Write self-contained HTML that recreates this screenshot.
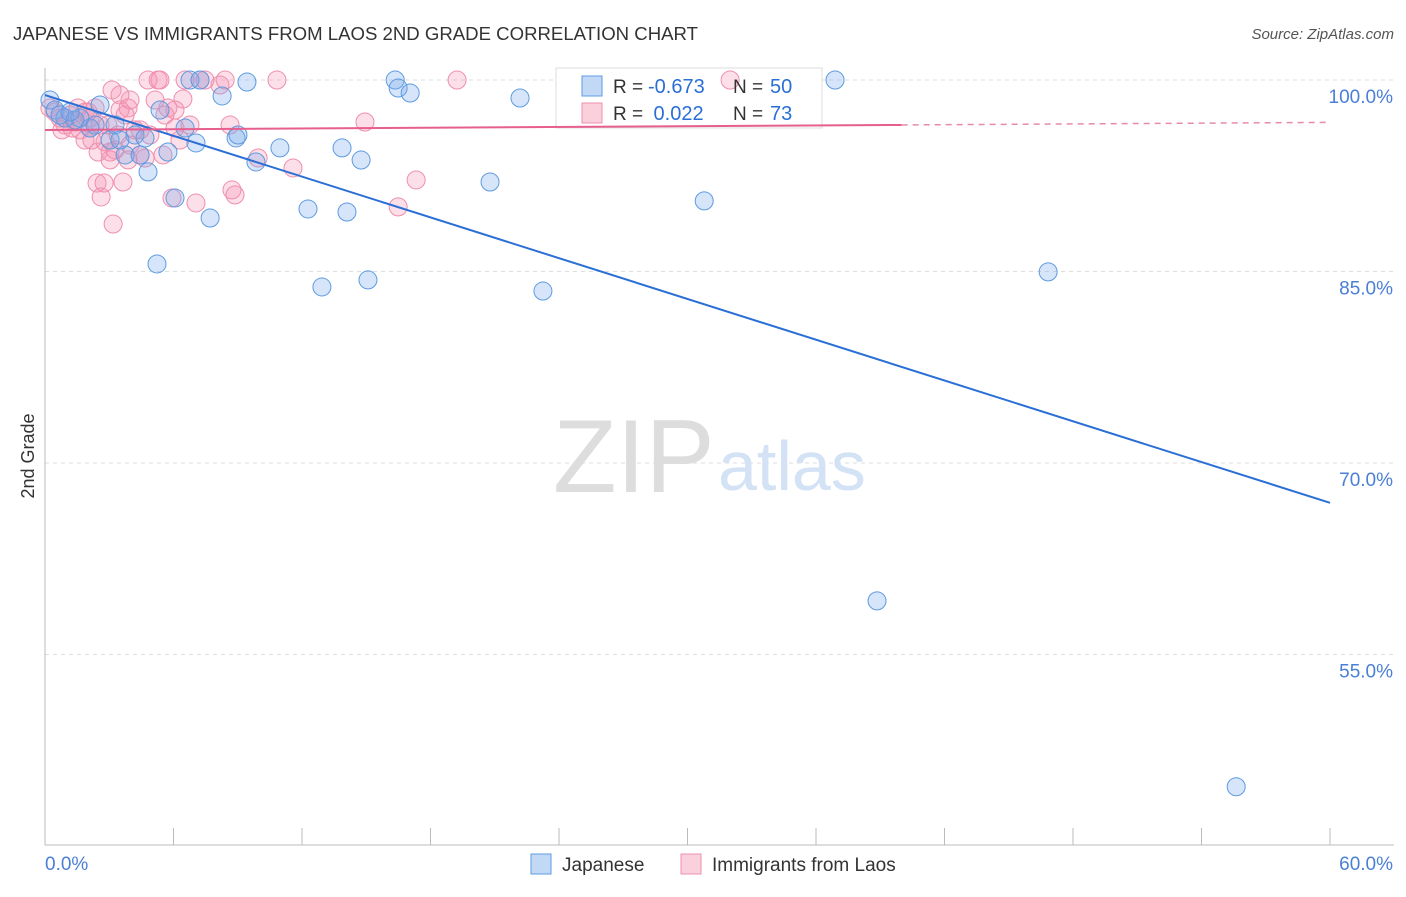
<!DOCTYPE html>
<html><head><meta charset="utf-8"><style>
body{margin:0;background:#fff;font-family:"Liberation Sans",sans-serif}
svg text{font-family:"Liberation Sans",sans-serif}
</style></head><body>
<svg id="c" width="1406" height="892"></svg>
<script>
const jpX=[0.23,0.47,0.93,2.10,2.57,3.04,3.27,3.74,4.20,4.44,4.67,4.81,5.23,5.37,5.74,6.07,6.54,6.77,7.05,7.24,7.71,8.27,8.92,9.01,9.43,9.85,10.97,12.28,12.93,13.87,14.10,14.76,15.08,16.35,16.49,17.05,20.78,22.18,23.25,30.78,36.89,38.85,46.84,55.62,0.70,1.40,2.34,3.50,1.63,1.17];
const jpY=[98.43,97.65,97.02,96.24,98.04,95.30,96.48,94.13,95.69,94.13,95.46,92.80,85.59,97.65,94.36,90.76,96.24,100,95.07,100,89.19,98.75,95.46,95.69,99.84,93.58,94.68,89.90,83.79,94.68,89.66,93.73,84.34,100,99.37,98.98,92.01,98.59,83.47,90.53,100,59.20,84.97,44.64,97.26,96.87,96.48,95.30,97.02,97.49];
const laX=[.23,.47,.70,.93,1.17,1.40,1.63,1.87,2.10,2.34,2.57,1.87,2.10,2.48,2.80,3.04,3.13,3.27,3.50,3.74,3.88,3.97,4.20,4.44,4.67,4.81,5.14,5.28,5.37,5.51,5.60,5.74,6.07,6.30,6.44,6.77,7.05,7.24,7.47,8.17,8.64,8.73,8.87,8.41,9.95,10.83,11.58,14.94,16.49,17.33,19.24,31.99,2.43,2.76,2.62,3.18,3.64,5.93,2.94,3.41,3.88,4.90,.79,1.26,1.54,2.01,2.19,3.97,4.44,3.04,6.07,6.54,3.50];
const laY=[97.81,97.49,97.02,96.48,97.26,96.71,96.09,97.49,97.02,97.81,96.48,95.30,96.24,94.36,95.15,94.36,99.22,94.52,97.65,97.26,97.81,98.43,96.09,94.13,93.89,100,98.43,100,100,94.13,97.26,97.81,96.24,95.30,98.51,96.48,90.37,100,100,99.61,96.48,91.39,91.00,100,93.89,100,93.11,96.71,90.06,92.17,100,100,91.93,91.93,90.84,88.72,92.01,90.76,96.48,95.69,93.74,95.69,96.09,96.24,97.81,97.49,95.30,94.91,96.09,93.74,97.65,100,98.83];
const jpTrend=[98.82,66.88]; // at x=0 and x=60
const laTrend=[96.08,96.48,96.68]; // at x=0, 40, 60
const yTicks=[100,85,70,55];
const ns="http://www.w3.org/2000/svg",svg=document.getElementById('c');
const X=v=>45+v/60*1285, Y=v=>80+(100-v)/15*191.5;
function el(t,a,p){const e=document.createElementNS(ns,t);for(const k in a)e.setAttribute(k,a[k]);(p||svg).appendChild(e);return e;}
let t=el('text',{x:13,y:40,'font-size':18.6,fill:'#333'});t.textContent='JAPANESE VS IMMIGRANTS FROM LAOS 2ND GRADE CORRELATION CHART';

t=el('text',{x:1394,y:39,'font-size':15,fill:'#555','text-anchor':'end','font-style':'italic'});t.textContent='Source: ZipAtlas.com';

yTicks.forEach(v=>{const g=el('line',{x1:45,x2:1394,y1:Y(v),y2:Y(v),stroke:'#ddd','stroke-dasharray':'4,4'});

const l=el('text',{x:1393,y:Y(v)+23,'font-size':19,fill:'#4a7fd6','text-anchor':'end'});l.textContent=v.toFixed(1)+'%';
});
el('line',{x1:45,x2:45,y1:68,y2:845,stroke:'#bbb'});
el('line',{x1:45,x2:1394,y1:845,y2:845,stroke:'#bbb'});
for(let i=0;i<=10;i++){const tk=el('line',{x1:X(i*6),x2:X(i*6),y1:828,y2:845,stroke:'#bbb'});}
t=el('text',{x:45,y:870,'font-size':19,fill:'#4a7fd6'});t.textContent='0.0%';
t=el('text',{x:1393,y:870,'font-size':19,fill:'#4a7fd6','text-anchor':'end'});t.textContent='60.0%';
t=el('text',{x:34,y:456,'font-size':18,fill:'#333','text-anchor':'middle',transform:'rotate(-90 34 456)'});t.textContent='2nd Grade';
t=el('text',{x:553,y:492,'font-size':104,fill:'#ddd','font-family':'Liberation Serif'});t.textContent='ZIP';
t=el('text',{x:718,y:490,'font-size':70,fill:'#d3e2f5'});t.textContent='atlas';
const lg=el('g',{});
el('rect',{x:556,y:68,width:266,height:60,fill:'#fff',stroke:'#ddd'},lg);
laX.forEach((v,i)=>{const c=el('circle',{cx:X(v),cy:Y(laY[i]),r:9,fill:'rgba(244,150,180,0.3)',stroke:'#ee8fae','stroke-width':1});
});
jpX.forEach((v,i)=>{const c=el('circle',{cx:X(v),cy:Y(jpY[i]),r:9,fill:'rgba(120,170,235,0.3)',stroke:'#5f9be0','stroke-width':1});
});
let ln=el('line',{x1:X(0),y1:Y(jpTrend[0]),x2:X(60),y2:Y(jpTrend[1]),stroke:'#2a6fd6','stroke-width':2});

ln=el('line',{x1:X(0),y1:Y(laTrend[0]),x2:X(40),y2:Y(laTrend[1]),stroke:'#e65f8e','stroke-width':2});

ln=el('line',{x1:X(40),y1:Y(laTrend[1]),x2:X(60),y2:Y(laTrend[2]),stroke:'#e88aab','stroke-width':1.5,'stroke-dasharray':'6,5'});

const lt=el('g',{});
el('rect',{x:582,y:76,width:20,height:20,fill:'rgba(120,170,235,0.45)',stroke:'#5f9be0'},lt);
el('rect',{x:582,y:103,width:20,height:20,fill:'rgba(244,150,180,0.45)',stroke:'#ee8fae'},lt);
[[93,'-0.673','50'],[120,'0.022','73']].forEach(r=>{
let a=el('text',{x:613,y:r[0],'font-size':19,fill:'#333'},lt);a.textContent='R = ';
a=el('text',{x:648,y:r[0],'font-size':20,fill:'#2a6fd6'},lt);a.textContent=(r[1][0]=='-'?'':'\u00a0')+r[1];
a=el('text',{x:733,y:r[0],'font-size':19,fill:'#333'},lt);a.textContent='N = ';
a=el('text',{x:770,y:r[0],'font-size':20,fill:'#2a6fd6'},lt);a.textContent=r[2];});
const bl=el('g',{});
el('rect',{x:531,y:854,width:20,height:20,fill:'rgba(120,170,235,0.45)',stroke:'#5f9be0'},bl);
t=el('text',{x:562,y:871,'font-size':19,fill:'#333'},bl);t.textContent='Japanese';
el('rect',{x:681,y:854,width:20,height:20,fill:'rgba(244,150,180,0.45)',stroke:'#ee8fae'},bl);
t=el('text',{x:712,y:871,'font-size':19,fill:'#333'},bl);t.textContent='Immigrants from Laos';
</script></body></html>
